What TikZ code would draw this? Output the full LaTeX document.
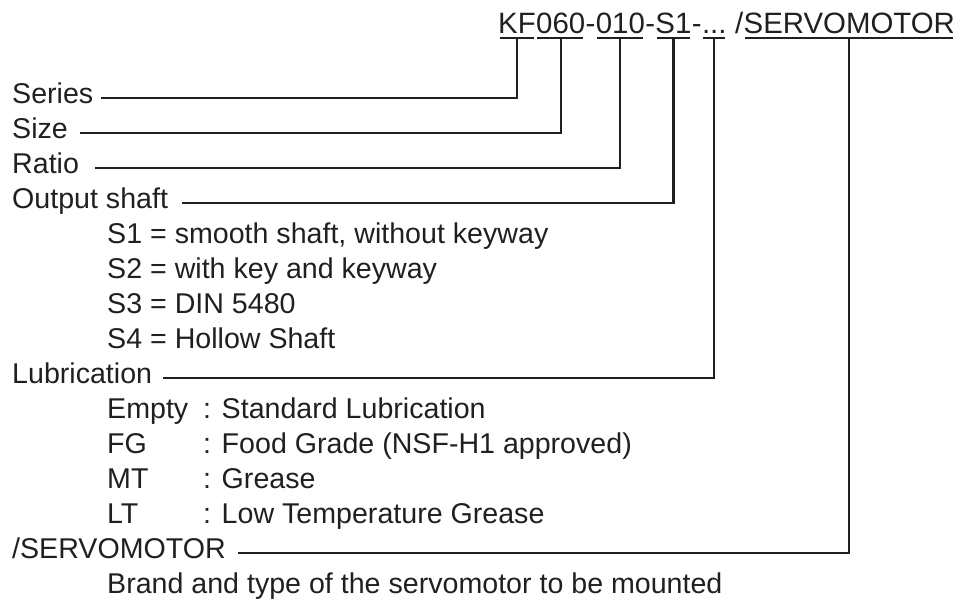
\documentclass[tikz,border=0pt]{standalone}
\usepackage{fontspec}
\setmainfont{Liberation Sans}
\definecolor{ink}{HTML}{231F20}
\begin{document}
\begin{tikzpicture}[x=1pt,y=-1pt,
  lbl/.style={anchor=base west,inner sep=0pt,font=\fontsize{28.6}{35}\selectfont,text=ink},
  code/.style={anchor=base west,inner sep=0pt,font=\fontsize{29.4}{35}\selectfont,text=ink},
  conn/.style={draw=ink,line width=2.3pt},
  uline/.style={draw=ink,line width=2.4pt}]
\useasboundingbox (0,0) rectangle (963,600);
% code string
\node[code] (kf) at (498,33.3) {KF};
\node[code] (s060) at (kf.base east) {060};
\node[code] (d1) at (s060.base east) {-};
\node[code] (s010) at (d1.base east) {010};
\node[code] (d2) at (s010.base east) {-};
\node[code] (s1) at (d2.base east) {S1};
\node[code] (d3) at (s1.base east) {-};
\node[code] (dots) at (d3.base east) {...};
\node[code] (slash) at (dots.base east) {\ /};
\node[code] (servo) at (slash.base east) {SERVOMOTOR};
\foreach \n in {kf,s060,s010,s1,dots,servo}
  \draw[uline] ([xshift=1.5pt,yshift=-4.4pt]\n.base west) -- ([xshift=-2pt,yshift=-4.4pt]\n.base east);
% labels
\node[lbl] (series) at (12,103.3) {Series};
\node[lbl] (size) at (12,138.3) {Size};
\node[lbl] (ratio) at (12,173.3) {Ratio};
\node[lbl] (output) at (12,208.3) {Output shaft};
\node[lbl] (o1) at (107,243.3) {S1 = smooth shaft, without keyway};
\node[lbl] (o2) at (107,278.3) {S2 = with key and keyway};
\node[lbl] (o3) at (107,313.3) {S3 = DIN 5480};
\node[lbl] (o4) at (107,348.3) {S4 = Hollow Shaft};
\node[lbl] (lub) at (12,383.3) {Lubrication};
\node[lbl] (l1k) at (107,418.3) {Empty};
\node[lbl] (l1v) at (203,418.3) {: Standard Lubrication};
\node[lbl] (l2k) at (107,453.3) {FG};
\node[lbl] (l2v) at (203,453.3) {: Food Grade (NSF-H1 approved)};
\node[lbl] (l3k) at (107,488.3) {MT};
\node[lbl] (l3v) at (203,488.3) {: Grease};
\node[lbl] (l4k) at (107,523.3) {LT};
\node[lbl] (l4v) at (203,523.3) {: Low Temperature Grease};
\node[lbl] (servolbl) at (12,558.3) {/SERVOMOTOR};
\node[lbl] (brand) at (107,593.3) {Brand and type of the servomotor to be mounted};
% connectors
\draw[conn] ([xshift=8pt,yshift=5.6pt]series.base east) -| ([yshift=-4.4pt]kf.base);
\draw[conn] ([xshift=12pt,yshift=5.6pt]size.base east) -| ([yshift=-4.4pt]s060.base);
\draw[conn] ([xshift=16pt,yshift=5.6pt]ratio.base east) -| ([yshift=-4.4pt]s010.base);
\draw[conn] ([xshift=14pt,yshift=5.6pt]output.base east) -| ([yshift=-4.4pt]s1.base);
\draw[conn] ([xshift=11pt,yshift=5.6pt]lub.base east) -| ([yshift=-4.4pt]dots.base);
\draw[conn] ([xshift=12pt,yshift=5.6pt]servolbl.base east) -| ([yshift=-4.4pt]servo.base);
\end{tikzpicture}
\end{document}
